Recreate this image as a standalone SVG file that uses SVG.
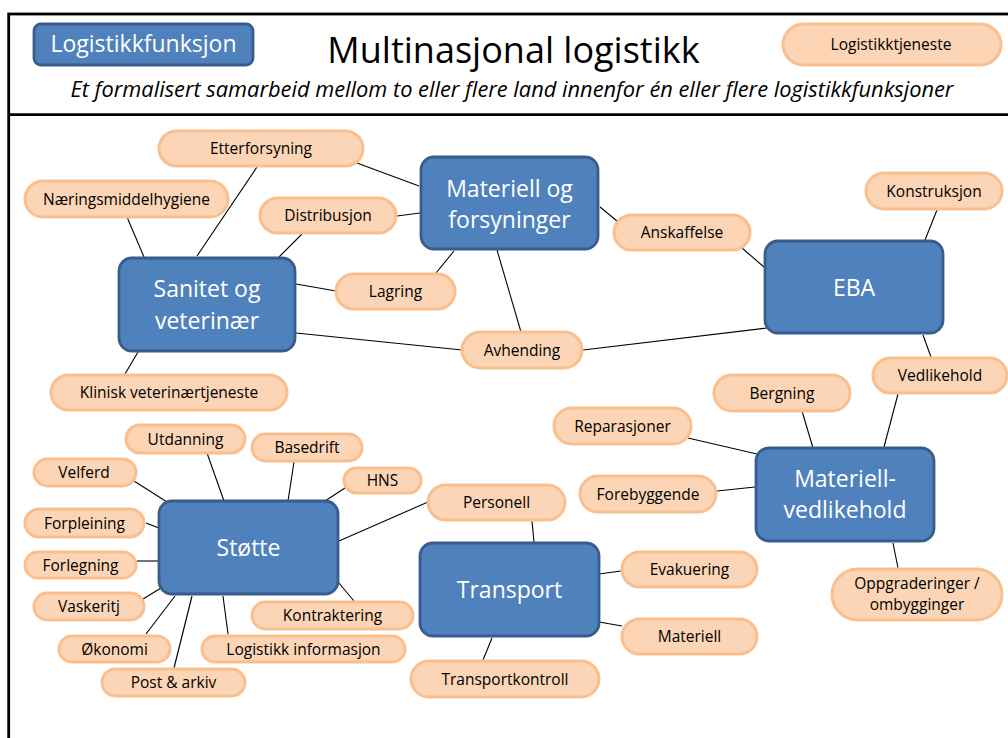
<svg xmlns="http://www.w3.org/2000/svg" width="1008" height="738" viewBox="0 0 1008 738">
<style>
.fn rect{fill:#4F81BD;stroke:#385D8A;stroke-width:2.8}
.fn text{font-family:"Open Sans","Liberation Sans",sans-serif;font-size:23px;fill:#fff;text-anchor:middle}
.sv rect{fill:#FBD5B5;stroke:#F9BF8F;stroke-width:3}
.sv text{font-family:"Open Sans","Liberation Sans",sans-serif;font-size:15.5px;fill:#000;text-anchor:middle}
.cn line{stroke:#000;stroke-width:1.1}
</style>
<rect width="1008" height="738" fill="#fff"/>
<g id="frame" fill="none" stroke="#000" stroke-width="2.8">
<rect x="8.7" y="14" width="1010" height="800"/>
<line x1="8.7" y1="114.7" x2="1010" y2="114.7"/>
</g>
<g id="legend-function" class="fn"><rect x="34" y="24" width="219" height="41" rx="7"/><text x="143.5" y="52">Logistikkfunksjon</text></g>
<text id="title" x="513.5" y="63" font-family="'Open Sans','Liberation Sans',sans-serif" font-size="36" text-anchor="middle" fill="#000">Multinasjonal logistikk</text>
<g id="legend-service" class="sv"><rect x="783" y="24" width="218" height="41" rx="20.5"/><text x="891" y="50">Logistikktjeneste</text></g>
<text id="subtitle" x="512" y="97" font-family="'Open Sans','Liberation Sans',sans-serif" font-size="21.8" font-style="italic" text-anchor="middle" fill="#000">Et formalisert samarbeid mellom to eller flere land innenfor én eller flere logistikkfunksjoner</text>

<g id="connectors" class="cn">
<line x1="357" y1="163" x2="419" y2="186"/>
<line x1="397" y1="216" x2="420" y2="213"/>
<line x1="127" y1="217" x2="144" y2="257"/>
<line x1="257" y1="167" x2="197" y2="256"/>
<line x1="302" y1="234" x2="279" y2="257"/>
<line x1="296" y1="284" x2="336" y2="291"/>
<line x1="454" y1="251" x2="436" y2="273"/>
<line x1="296" y1="333" x2="462" y2="350"/>
<line x1="138" y1="352" x2="125" y2="374"/>
<line x1="497" y1="250" x2="521" y2="332"/>
<line x1="600" y1="207" x2="617" y2="221"/>
<line x1="742" y1="248" x2="764" y2="267"/>
<line x1="583" y1="350" x2="767" y2="328"/>
<line x1="937" y1="210" x2="925" y2="240"/>
<line x1="923" y1="335" x2="931" y2="357"/>
<line x1="688" y1="438" x2="757" y2="454"/>
<line x1="802" y1="411" x2="813" y2="448"/>
<line x1="717" y1="491" x2="755" y2="487"/>
<line x1="898" y1="394" x2="884" y2="447"/>
<line x1="893" y1="543" x2="898" y2="568"/>
<line x1="532" y1="521" x2="534" y2="542"/>
<line x1="339" y1="541" x2="428" y2="502"/>
<line x1="599" y1="574" x2="621" y2="571"/>
<line x1="599" y1="622" x2="622" y2="626"/>
<line x1="492" y1="638" x2="483" y2="660"/>
<line x1="134" y1="481" x2="167" y2="502"/>
<line x1="207" y1="453" x2="224" y2="501"/>
<line x1="294" y1="462" x2="288" y2="501"/>
<line x1="345" y1="488" x2="325" y2="501"/>
<line x1="146" y1="523" x2="159" y2="528"/>
<line x1="137" y1="561" x2="159" y2="561"/>
<line x1="143" y1="599" x2="161" y2="588"/>
<line x1="146" y1="634" x2="175" y2="596"/>
<line x1="174" y1="668" x2="192" y2="596"/>
<line x1="228" y1="634" x2="223" y2="596"/>
<line x1="354" y1="601" x2="338" y2="582"/>
</g>

<g id="materiell-forsyninger" class="fn"><rect x="421" y="157" width="177" height="92" rx="13"/><text x="509.5" y="197">Materiell og</text><text x="509.5" y="228">forsyninger</text></g>
<g id="sanitet-veterinaer" class="fn"><rect x="119" y="258" width="176" height="93" rx="13"/><text x="207" y="297">Sanitet og</text><text x="207" y="329">veterinær</text></g>
<g id="eba" class="fn"><rect x="765" y="241" width="178" height="92" rx="13"/><text x="854" y="296">EBA</text></g>
<g id="materiellvedlikehold" class="fn"><rect x="756" y="448" width="178" height="93" rx="13"/><text x="845" y="487">Materiell-</text><text x="845" y="518">vedlikehold</text></g>
<g id="stotte" class="fn"><rect x="159" y="501" width="179" height="93" rx="13"/><text x="248.5" y="556">Støtte</text></g>
<g id="transport" class="fn"><rect x="420" y="543" width="179" height="93" rx="13"/><text x="509.5" y="598">Transport</text></g>

<g id="etterforsyning" class="sv"><rect x="159" y="131" width="204" height="35" rx="17.5"/><text x="261" y="154">Etterforsyning</text></g>
<g id="naeringsmiddelhygiene" class="sv"><rect x="25" y="181" width="203" height="36" rx="18"/><text x="126.5" y="204.5">Næringsmiddelhygiene</text></g>
<g id="distribusjon" class="sv"><rect x="260" y="198" width="136" height="35" rx="17.5"/><text x="328" y="221">Distribusjon</text></g>
<g id="lagring" class="sv"><rect x="336" y="274" width="119" height="35" rx="17.5"/><text x="395.5" y="297">Lagring</text></g>
<g id="klinisk" class="sv"><rect x="51" y="375" width="236" height="35" rx="17.5"/><text x="169" y="398">Klinisk veterinærtjeneste</text></g>
<g id="anskaffelse" class="sv"><rect x="614" y="215" width="136" height="35" rx="17.5"/><text x="682" y="238">Anskaffelse</text></g>
<g id="avhending" class="sv"><rect x="462" y="332" width="120" height="36" rx="18"/><text x="522" y="355.5">Avhending</text></g>
<g id="konstruksjon" class="sv"><rect x="866" y="173" width="136" height="36" rx="18"/><text x="934" y="196.5">Konstruksjon</text></g>
<g id="vedlikehold" class="sv"><rect x="873" y="358" width="134" height="35" rx="17.5"/><text x="940" y="381">Vedlikehold</text></g>
<g id="bergning" class="sv"><rect x="714" y="375" width="136" height="36" rx="18"/><text x="782" y="398.5">Bergning</text></g>
<g id="reparasjoner" class="sv"><rect x="554" y="408" width="137" height="36" rx="18"/><text x="622.5" y="431.5">Reparasjoner</text></g>
<g id="forebyggende" class="sv"><rect x="580" y="476" width="136" height="36" rx="18"/><text x="648" y="499.5">Forebyggende</text></g>
<g id="oppgraderinger" class="sv"><rect x="832" y="569" width="170" height="51" rx="25.5"/><text x="917" y="589">Oppgraderinger /</text><text x="917" y="610">ombygginger</text></g>
<g id="personell" class="sv"><rect x="428" y="485" width="137" height="35" rx="17.5"/><text x="496.5" y="508">Personell</text></g>
<g id="evakuering" class="sv"><rect x="622" y="552" width="135" height="35" rx="17.5"/><text x="689.5" y="575">Evakuering</text></g>
<g id="materiell" class="sv"><rect x="622" y="619" width="135" height="35" rx="17.5"/><text x="689.5" y="642">Materiell</text></g>
<g id="transportkontroll" class="sv"><rect x="411" y="661" width="188" height="36" rx="18"/><text x="505" y="684.5">Transportkontroll</text></g>
<g id="utdanning" class="sv"><rect x="126" y="425" width="119" height="28" rx="14"/><text x="185.5" y="444.5">Utdanning</text></g>
<g id="basedrift" class="sv"><rect x="252" y="434" width="110" height="27" rx="13.5"/><text x="307" y="453">Basedrift</text></g>
<g id="velferd" class="sv"><rect x="34" y="459" width="102" height="27" rx="13.5"/><text x="84" y="478">Velferd</text></g>
<g id="hns" class="sv"><rect x="344" y="468" width="77" height="25" rx="12.5"/><text x="382.5" y="486">HNS</text></g>
<g id="forpleining" class="sv"><rect x="25" y="509" width="119" height="28" rx="14"/><text x="84.5" y="528.5">Forpleining</text></g>
<g id="forlegning" class="sv"><rect x="25" y="552" width="111" height="26" rx="13"/><text x="80.5" y="570.5">Forlegning</text></g>
<g id="vaskeritj" class="sv"><rect x="34" y="593" width="110" height="27" rx="13.5"/><text x="89" y="612">Vaskeritj</text></g>
<g id="okonomi" class="sv"><rect x="59" y="636" width="111" height="26" rx="13"/><text x="114.5" y="654.5">Økonomi</text></g>
<g id="logistikkinformasjon" class="sv"><rect x="202" y="636" width="203" height="26" rx="13"/><text x="303.5" y="654.5">Logistikk informasjon</text></g>
<g id="kontraktering" class="sv"><rect x="252" y="602" width="161" height="27" rx="13.5"/><text x="332.5" y="621">Kontraktering</text></g>
<g id="postarkiv" class="sv"><rect x="102" y="669" width="143" height="27" rx="13.5"/><text x="173.5" y="688">Post &amp; arkiv</text></g>
</svg>
